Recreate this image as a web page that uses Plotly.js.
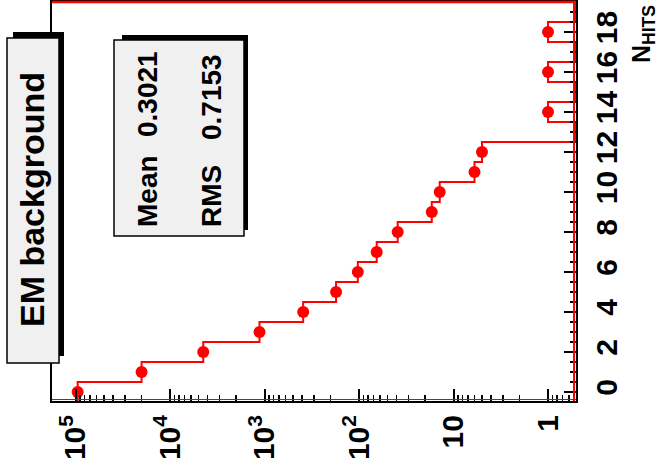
<!DOCTYPE html>
<html>
<head>
<meta charset="utf-8">
<script src="https://cdn.plot.ly/plotly-3.0.1.min.js"></script>
<style>
  html, body { margin: 0; padding: 0; background: #ffffff; }
  #plot { width: 659px; height: 469px; }
</style>
</head>
<body>
<div id="plot"></div>
<script>
// Number of hits per event (bin centres) and entries per bin
const nHits = [0, 1, 2, 3, 4, 5, 6, 7, 8, 9, 10, 11, 12, 13, 14, 15, 16, 17, 18, 19];
const entries = [95000, 20000, 4450, 1130, 390, 175, 103, 65, 39, 17, 14, 6, 5, 0, 1, 0, 1, 0, 1, 0];

// Statistics box contents
const statNames = ['Mean', 'RMS'];
const statValues = ['0.3021', '0.7153'];
const histTitle = 'EM background';

// Axis tick values
const countTicks = [1, 10, 100, 1000, 10000, 100000];
const countTickText = ['1', '10', '10<sup>2</sup>', '10<sup>3</sup>', '10<sup>4</sup>', '10<sup>5</sup>'];

// Frame geometry in pixels
const W = 659, H = 469;
const L = 52, R = 576, T = 2, B = 401;
const px = x => (x - L) / (R - L);
const py = y => (B - y) / (B - T);

// Log range of the count axis (drawn reversed: large counts on the left)
const logMax = 5.249, logMin = -0.296;
const floorVal = Math.pow(10, logMin);
const binLo = -0.45, binHi = 19.5;

// Step outline: each bin is a vertical segment spanning its width
const stepX = [], stepY = [];
nHits.forEach((n, i) => {
  const c = entries[i] > 0 ? entries[i] : floorVal;
  stepX.push(c, c);
  stepY.push(n - 0.5, n + 0.5);
});

// Markers only for filled bins
const ptX = [], ptY = [];
nHits.forEach((n, i) => {
  if (entries[i] > 0) { ptX.push(entries[i]); ptY.push(n); }
});

const RED = '#ff0000';
const FONT = 'Liberation Sans, Arial, Helvetica, sans-serif';

const traces = [
  {
    x: stepX, y: stepY, type: 'scatter', mode: 'lines',
    line: { color: RED, width: 2 }, hoverinfo: 'skip', showlegend: false
  },
  {
    x: ptX, y: ptY, type: 'scatter', mode: 'markers',
    marker: { color: RED, size: 12, symbol: 'circle' }, showlegend: false
  }
];

const tickFont = { family: FONT, size: 30, color: '#000000', weight: 'bold' };

const shapes = [
  // red edges of the histogram frame
  { type: 'line', xref: 'paper', yref: 'paper', x0: 0, x1: 1, y0: 1, y1: 1,
    line: { color: RED, width: 2.5 }, layer: 'above' },
  { type: 'line', xref: 'paper', yref: 'paper', x0: px(R - 2), x1: px(R - 2), y0: 0, y1: 1,
    line: { color: RED, width: 2 }, layer: 'above' },
  { type: 'line', xref: 'paper', yref: 'paper', x0: 0, x1: 1, y0: py(B - 1.5), y1: py(B - 1.5),
    line: { color: '#a02020', width: 1 }, layer: 'above' },
  // title box: shadow then panel
  { type: 'rect', xref: 'paper', yref: 'paper', x0: px(13), x1: px(64), y0: py(356), y1: py(32),
    fillcolor: '#000000', line: { width: 0 }, layer: 'above' },
  { type: 'rect', xref: 'paper', yref: 'paper', x0: px(7), x1: px(59), y0: py(363), y1: py(38),
    fillcolor: '#f0f0f0', line: { color: '#000000', width: 1.5 }, layer: 'above' },
  // statistics box: shadow then panel
  { type: 'rect', xref: 'paper', yref: 'paper', x0: px(122), x1: px(248), y0: py(230), y1: py(35),
    fillcolor: '#000000', line: { width: 0 }, layer: 'above' },
  { type: 'rect', xref: 'paper', yref: 'paper', x0: px(114), x1: px(244), y0: py(236), y1: py(40),
    fillcolor: '#f0f0f0', line: { color: '#000000', width: 1.5 }, layer: 'above' }
];

const annotations = [
  { text: histTitle, xref: 'paper', yref: 'paper', x: px(32), y: py(200),
    xanchor: 'center', yanchor: 'middle', textangle: -90, showarrow: false,
    font: { family: FONT, size: 34, color: '#000000', weight: 'bold' } },
  { text: statNames[0], xref: 'paper', yref: 'paper', x: px(147), y: py(229),
    xanchor: 'center', yanchor: 'bottom', textangle: -90, showarrow: false,
    font: { family: FONT, size: 28, color: '#000000', weight: 'bold' } },
  { text: statValues[0], xref: 'paper', yref: 'paper', x: px(147), y: py(49),
    xanchor: 'center', yanchor: 'top', textangle: -90, showarrow: false,
    font: { family: FONT, size: 28, color: '#000000', weight: 'bold' } },
  { text: statNames[1], xref: 'paper', yref: 'paper', x: px(211), y: py(229),
    xanchor: 'center', yanchor: 'bottom', textangle: -90, showarrow: false,
    font: { family: FONT, size: 28, color: '#000000', weight: 'bold' } },
  { text: statValues[1], xref: 'paper', yref: 'paper', x: px(211), y: py(52),
    xanchor: 'center', yanchor: 'top', textangle: -90, showarrow: false,
    font: { family: FONT, size: 28, color: '#000000', weight: 'bold' } },
  { text: 'N<sub>HITS</sub>', xref: 'paper', yref: 'paper', x: px(643), y: py(3),
    xanchor: 'center', yanchor: 'top', textangle: -90, showarrow: false,
    font: { family: FONT, size: 25, color: '#000000', weight: 'bold' } }
];

const layout = {
  width: W, height: H,
  margin: { l: L, r: W - R, t: T, b: H - B, pad: 0 },
  paper_bgcolor: '#ffffff', plot_bgcolor: '#ffffff',
  showlegend: false,
  xaxis: {
    type: 'log', range: [logMax, logMin],
    tickmode: 'array', tickvals: countTicks, ticktext: countTickText,
    tickangle: -90, tickfont: tickFont,
    ticks: 'inside', ticklen: 12, tickwidth: 2, tickcolor: '#000000',
    minor: { ticks: 'inside', ticklen: 6, tickwidth: 1.5, tickcolor: '#000000', dtick: 'D1', showgrid: false },
    showline: true, linecolor: '#000000', linewidth: 2, mirror: true,
    showgrid: false, zeroline: false, fixedrange: true
  },
  yaxis: {
    side: 'right', range: [binLo, binHi],
    tickmode: 'linear', tick0: 0, dtick: 2,
    tickangle: -90, tickfont: tickFont, ticklabelstandoff: 3,
    ticks: 'inside', ticklen: 12, tickwidth: 2, tickcolor: '#000000',
    minor: { ticks: 'inside', ticklen: 6, tickwidth: 1.5, tickcolor: '#000000', dtick: 0.5, showgrid: false },
    showline: true, linecolor: '#000000', linewidth: 2, mirror: true,
    showgrid: false, zeroline: false, fixedrange: true
  },
  shapes: shapes,
  annotations: annotations
};

Plotly.newPlot('plot', traces, layout, { staticPlot: true, displayModeBar: false });
</script>
</body>
</html>
